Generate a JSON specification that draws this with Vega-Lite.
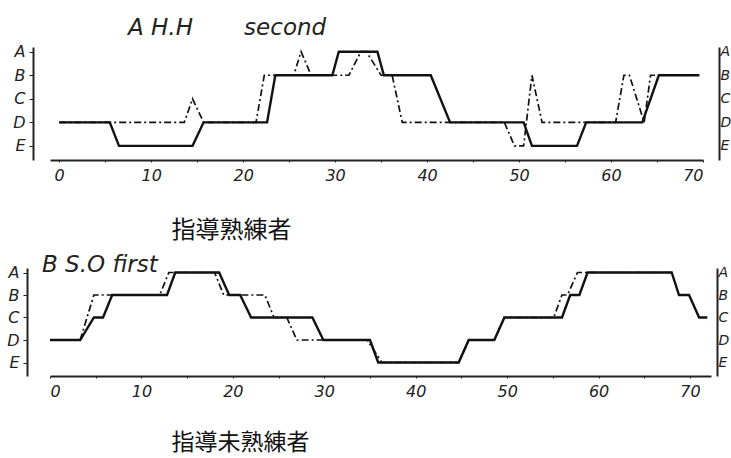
{
  "$schema": "https://vega.github.io/schema/vega-lite/v6.json",
  "padding": {"left": 6, "top": 17, "right": 0, "bottom": 0},
  "background": "white",
  "spacing": 11,
  "config": {
    "view": {"stroke": null},
    "axis": {"grid": false, "domainColor": "#222", "tickColor": "#222", "labelColor": "#222", "titleColor": "#111"}
  },
  "datasets": {
    "pts": [
      {"panel": "A", "series": "solid", "t": 0, "level": 2},
      {"panel": "A", "series": "solid", "t": 5.5, "level": 2},
      {"panel": "A", "series": "solid", "t": 6.5, "level": 1},
      {"panel": "A", "series": "solid", "t": 14.5, "level": 1},
      {"panel": "A", "series": "solid", "t": 15.7, "level": 2},
      {"panel": "A", "series": "solid", "t": 22.6, "level": 2},
      {"panel": "A", "series": "solid", "t": 23.5, "level": 4},
      {"panel": "A", "series": "solid", "t": 29.7, "level": 4},
      {"panel": "A", "series": "solid", "t": 30.4, "level": 5},
      {"panel": "A", "series": "solid", "t": 34.6, "level": 5},
      {"panel": "A", "series": "solid", "t": 35.3, "level": 4},
      {"panel": "A", "series": "solid", "t": 40.4, "level": 4},
      {"panel": "A", "series": "solid", "t": 42.5, "level": 2},
      {"panel": "A", "series": "solid", "t": 50.5, "level": 2},
      {"panel": "A", "series": "solid", "t": 51.4, "level": 1},
      {"panel": "A", "series": "solid", "t": 56.3, "level": 1},
      {"panel": "A", "series": "solid", "t": 57.3, "level": 2},
      {"panel": "A", "series": "solid", "t": 63.4, "level": 2},
      {"panel": "A", "series": "solid", "t": 65.2, "level": 4},
      {"panel": "A", "series": "solid", "t": 69.6, "level": 4},
      {"panel": "A", "series": "dashdot", "t": 0, "level": 2},
      {"panel": "A", "series": "dashdot", "t": 13.6, "level": 2},
      {"panel": "A", "series": "dashdot", "t": 14.5, "level": 3},
      {"panel": "A", "series": "dashdot", "t": 15.7, "level": 2},
      {"panel": "A", "series": "dashdot", "t": 21.4, "level": 2},
      {"panel": "A", "series": "dashdot", "t": 22.3, "level": 4},
      {"panel": "A", "series": "dashdot", "t": 25.5, "level": 4},
      {"panel": "A", "series": "dashdot", "t": 26.3, "level": 5},
      {"panel": "A", "series": "dashdot", "t": 27.4, "level": 4},
      {"panel": "A", "series": "dashdot", "t": 31.5, "level": 4},
      {"panel": "A", "series": "dashdot", "t": 32.8, "level": 5},
      {"panel": "A", "series": "dashdot", "t": 33.4, "level": 5},
      {"panel": "A", "series": "dashdot", "t": 35.0, "level": 4},
      {"panel": "A", "series": "dashdot", "t": 36.2, "level": 4},
      {"panel": "A", "series": "dashdot", "t": 37.3, "level": 2},
      {"panel": "A", "series": "dashdot", "t": 48.4, "level": 2},
      {"panel": "A", "series": "dashdot", "t": 49.5, "level": 1},
      {"panel": "A", "series": "dashdot", "t": 50.5, "level": 1},
      {"panel": "A", "series": "dashdot", "t": 51.4, "level": 4},
      {"panel": "A", "series": "dashdot", "t": 52.5, "level": 2},
      {"panel": "A", "series": "dashdot", "t": 60.5, "level": 2},
      {"panel": "A", "series": "dashdot", "t": 61.4, "level": 4},
      {"panel": "A", "series": "dashdot", "t": 62.0, "level": 4},
      {"panel": "A", "series": "dashdot", "t": 63.6, "level": 2},
      {"panel": "A", "series": "dashdot", "t": 64.3, "level": 4},
      {"panel": "A", "series": "dashdot", "t": 69.6, "level": 4},
      {"panel": "B", "series": "solid", "t": 0, "level": 2},
      {"panel": "B", "series": "solid", "t": 3.3, "level": 2},
      {"panel": "B", "series": "solid", "t": 4.8, "level": 3},
      {"panel": "B", "series": "solid", "t": 5.8, "level": 3},
      {"panel": "B", "series": "solid", "t": 6.8, "level": 4},
      {"panel": "B", "series": "solid", "t": 12.8, "level": 4},
      {"panel": "B", "series": "solid", "t": 13.7, "level": 5},
      {"panel": "B", "series": "solid", "t": 18.5, "level": 5},
      {"panel": "B", "series": "solid", "t": 19.6, "level": 4},
      {"panel": "B", "series": "solid", "t": 20.8, "level": 4},
      {"panel": "B", "series": "solid", "t": 22.0, "level": 3},
      {"panel": "B", "series": "solid", "t": 28.7, "level": 3},
      {"panel": "B", "series": "solid", "t": 29.9, "level": 2},
      {"panel": "B", "series": "solid", "t": 35.0, "level": 2},
      {"panel": "B", "series": "solid", "t": 35.9, "level": 1},
      {"panel": "B", "series": "solid", "t": 44.7, "level": 1},
      {"panel": "B", "series": "solid", "t": 45.8, "level": 2},
      {"panel": "B", "series": "solid", "t": 48.6, "level": 2},
      {"panel": "B", "series": "solid", "t": 49.7, "level": 3},
      {"panel": "B", "series": "solid", "t": 56.0, "level": 3},
      {"panel": "B", "series": "solid", "t": 56.9, "level": 4},
      {"panel": "B", "series": "solid", "t": 57.9, "level": 4},
      {"panel": "B", "series": "solid", "t": 58.8, "level": 5},
      {"panel": "B", "series": "solid", "t": 68.0, "level": 5},
      {"panel": "B", "series": "solid", "t": 68.8, "level": 4},
      {"panel": "B", "series": "solid", "t": 69.9, "level": 4},
      {"panel": "B", "series": "solid", "t": 71.0, "level": 3},
      {"panel": "B", "series": "solid", "t": 71.9, "level": 3},
      {"panel": "B", "series": "dashdot", "t": 0, "level": 2},
      {"panel": "B", "series": "dashdot", "t": 3.3, "level": 2},
      {"panel": "B", "series": "dashdot", "t": 4.8, "level": 4},
      {"panel": "B", "series": "dashdot", "t": 12.0, "level": 4},
      {"panel": "B", "series": "dashdot", "t": 13.0, "level": 5},
      {"panel": "B", "series": "dashdot", "t": 18.0, "level": 5},
      {"panel": "B", "series": "dashdot", "t": 19.0, "level": 4},
      {"panel": "B", "series": "dashdot", "t": 23.5, "level": 4},
      {"panel": "B", "series": "dashdot", "t": 24.5, "level": 3},
      {"panel": "B", "series": "dashdot", "t": 25.9, "level": 3},
      {"panel": "B", "series": "dashdot", "t": 27.0, "level": 2},
      {"panel": "B", "series": "dashdot", "t": 34.7, "level": 2},
      {"panel": "B", "series": "dashdot", "t": 36.3, "level": 1},
      {"panel": "B", "series": "dashdot", "t": 44.7, "level": 1},
      {"panel": "B", "series": "dashdot", "t": 45.8, "level": 2},
      {"panel": "B", "series": "dashdot", "t": 48.6, "level": 2},
      {"panel": "B", "series": "dashdot", "t": 49.7, "level": 3},
      {"panel": "B", "series": "dashdot", "t": 55.1, "level": 3},
      {"panel": "B", "series": "dashdot", "t": 56.0, "level": 4},
      {"panel": "B", "series": "dashdot", "t": 56.6, "level": 4},
      {"panel": "B", "series": "dashdot", "t": 57.7, "level": 5},
      {"panel": "B", "series": "dashdot", "t": 68.0, "level": 5}
    ]
  },
  "vconcat": [
    {
      "width": 653,
      "height": 113,
      "title": {"text": "A\u00a0H.H\u00a0\u00a0\u00a0\u00a0\u00a0\u00a0\u00a0second", "anchor": "start", "frame": "group", "dx": 78, "offset": 3.5, "font": "DejaVu Sans", "fontStyle": "italic", "fontWeight": "normal", "fontSize": 23, "color": "#222"},
      "data": {"name": "pts"},
      "transform": [{"filter": "datum.panel === 'A'"}],
      "encoding": {
        "x": {"field": "t", "type": "quantitative", "scale": {"domain": [-1, 70], "nice": false},
          "axis": {"values": [0, 5, 10, 15, 20, 25, 30, 35, 40, 45, 50, 55, 60, 65, 70], "labelExpr": "datum.value % 10 === 0 ? datum.label : ''",
            "domainWidth": 2, "tickSize": 2, "labelPadding": 5, "labelFont": "DejaVu Sans", "labelFontStyle": "italic", "labelFontSize": 16,
            "title": "指導熟練者", "titleFont": "Noto Sans CJK JP", "titleFontSize": 24, "titleFontWeight": "normal", "titleAlign": "left", "titleAnchor": "start", "titleX": 121, "titlePadding": 35}},
        "y": {"field": "level", "type": "quantitative", "scale": {"domain": [0.4, 5.2], "nice": false, "zero": false}}
      },
      "layer": [
        {
          "transform": [{"filter": "datum.series === 'solid'"}],
          "mark": {"type": "line", "color": "#111", "strokeWidth": 2.4, "clip": false},
          "encoding": {"y": {"field": "level", "type": "quantitative",
            "axis": {"orient": "left", "offset": 17, "values": [1, 2, 3, 4, 5], "labelExpr": "['','E','D','C','B','A'][datum.value]", "domainWidth": 2, "tickSize": 4, "labelPadding": 4, "labelFont": "DejaVu Sans", "labelFontStyle": "italic", "labelFontSize": 16, "title": null}}}
        },
        {
          "transform": [{"filter": "datum.series === 'dashdot'"}],
          "mark": {"type": "line", "color": "#111", "strokeWidth": 1.7, "strokeDash": [7, 3, 2, 3], "clip": false},
          "encoding": {"y": {"field": "level", "type": "quantitative",
            "axis": {"orient": "right", "offset": 16, "values": [1, 2, 3, 4, 5], "labelExpr": "['','E','D','C','B','A'][datum.value]", "domainWidth": 2, "tickSize": 0, "labelPadding": 1, "labelFont": "DejaVu Sans", "labelFontStyle": "italic", "labelFontSize": 14, "title": null}}}
        }
      ],
      "resolve": {"axis": {"y": "independent"}}
    },
    {
      "width": 661,
      "height": 108,
      "title": {"text": "B\u00a0S.O\u00a0first", "anchor": "start", "frame": "group", "dx": -8, "offset": -12, "font": "DejaVu Sans", "fontStyle": "italic", "fontWeight": "normal", "fontSize": 23, "color": "#222"},
      "data": {"name": "pts"},
      "transform": [{"filter": "datum.panel === 'B'"}],
      "encoding": {
        "x": {"field": "t", "type": "quantitative", "scale": {"domain": [0, 72.3], "nice": false},
          "axis": {"values": [0, 5, 10, 15, 20, 25, 30, 35, 40, 45, 50, 55, 60, 65, 70], "labelExpr": "datum.value % 10 === 0 ? datum.label : ''",
            "domainWidth": 2, "tickSize": 2, "labelPadding": 5, "labelFont": "DejaVu Sans", "labelFontStyle": "italic", "labelFontSize": 16,
            "title": "指導未熟練者", "titleFont": "Noto Sans CJK JP", "titleFontSize": 23, "titleFontWeight": "normal", "titleAlign": "left", "titleAnchor": "start", "titleX": 121, "titlePadding": 32}},
        "y": {"field": "level", "type": "quantitative", "scale": {"domain": [0.4, 5.2], "nice": false, "zero": false}}
      },
      "layer": [
        {
          "transform": [{"filter": "datum.series === 'solid'"}],
          "mark": {"type": "line", "color": "#111", "strokeWidth": 2.4, "clip": false},
          "encoding": {"y": {"field": "level", "type": "quantitative",
            "axis": {"orient": "left", "offset": 23, "values": [1, 2, 3, 4, 5], "labelExpr": "['','E','D','C','B','A'][datum.value]", "domainWidth": 2, "tickSize": 4, "labelPadding": 4, "labelFont": "DejaVu Sans", "labelFontStyle": "italic", "labelFontSize": 16, "title": null}}}
        },
        {
          "transform": [{"filter": "datum.series === 'dashdot'"}],
          "mark": {"type": "line", "color": "#111", "strokeWidth": 1.7, "strokeDash": [7, 3, 2, 3], "clip": false},
          "encoding": {"y": {"field": "level", "type": "quantitative",
            "axis": {"orient": "right", "offset": 6, "values": [1, 2, 3, 4, 5], "labelExpr": "['','E','D','C','B','A'][datum.value]", "domainWidth": 2, "tickSize": 0, "labelPadding": 1, "labelFont": "DejaVu Sans", "labelFontStyle": "italic", "labelFontSize": 14, "title": null}}}
        }
      ],
      "resolve": {"axis": {"y": "independent"}}
    }
  ]
}
